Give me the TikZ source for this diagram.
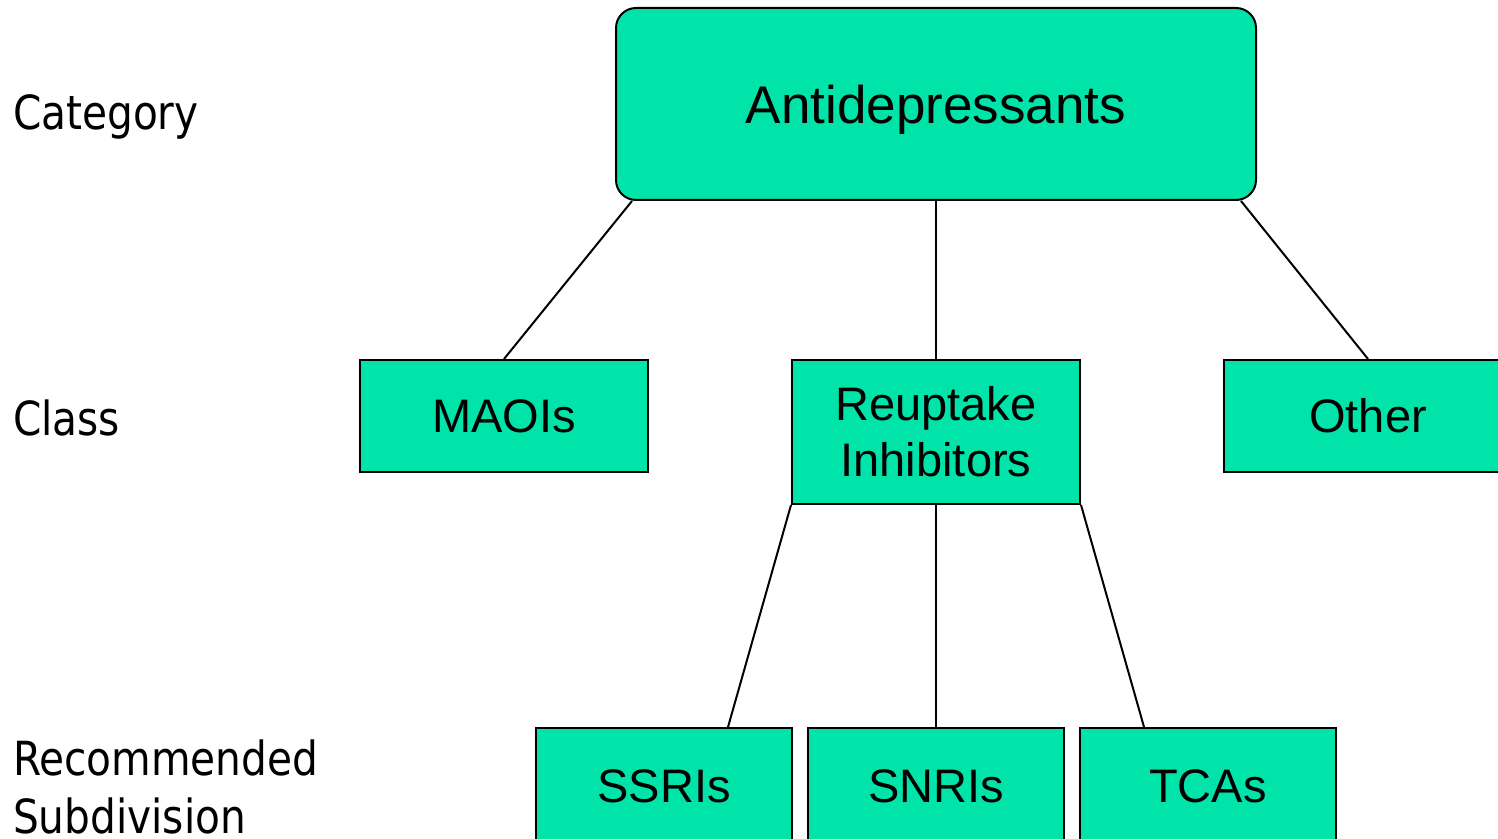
\documentclass[tikz,border=0pt]{standalone}
\usepackage{fontspec}
\newfontfamily\boxfont{Liberation Sans}
\newfontfamily\levelfont[FakeStretch=0.865]{DejaVu Sans}
\definecolor{drugteal}{RGB}{0,228,170}
\begin{document}
\begin{tikzpicture}[x=0.5pt, y=-0.5pt, line width=1pt,
    drugbox/.style={draw, fill=drugteal, inner sep=0pt, font=\boxfont\fontsize{23.5}{28}\selectfont, align=center},
    classbox/.style={drugbox, minimum width=144pt, minimum height=56pt},
    subbox/.style={drugbox, minimum width=128pt, minimum height=58pt},
    levellabel/.style={anchor=base west, inner sep=0pt, align=left, font=\levelfont\fontsize{23.5}{29}\selectfont}]
    \useasboundingbox (0,0) rectangle (1498,839);
    \clip (0,0) rectangle (1498,839);
    % level names on the left
    \node (lcat) [levellabel] at (12,130) {Category};
    \node (lclass) [levellabel] at (12,435) {Class};
    \node (lsub) [levellabel] at (12,833) {Recommended\\Subdivision};
    % tree
    \node (anti) [drugbox, rounded corners=10pt, minimum width=320pt, minimum height=96pt, text depth=0pt, font=\boxfont\fontsize{26.5}{30}\selectfont] at (936,104) {Antidepressants};
    \node (reup) [classbox, minimum height=72pt, node distance=164pt, below of=anti] {Reuptake\\Inhibitors};
    \node (maoi) [classbox, node distance=216pt, left of=reup, yshift=8pt] {MAOIs};
    \node (other) [classbox, node distance=216pt, right of=reup, yshift=8pt] {Other};
    \node (snri) [subbox, node distance=177pt, below of=reup] {SNRIs};
    \node (ssri) [subbox, node distance=136pt, left of=snri] {SSRIs};
    \node (tca) [subbox, node distance=136pt, right of=snri] {TCAs};
    \draw ([xshift=8.5pt]anti.south west) -- (maoi.north);
    \draw (anti.south) -- (reup.north);
    \draw ([xshift=-8pt]anti.south east) -- (other.north);
    \draw (reup.south west) -- ([xshift=32pt]ssri.north);
    \draw (reup.south) -- (snri.north);
    \draw (reup.south east) -- ([xshift=-32pt]tca.north);
\end{tikzpicture}
\end{document}
